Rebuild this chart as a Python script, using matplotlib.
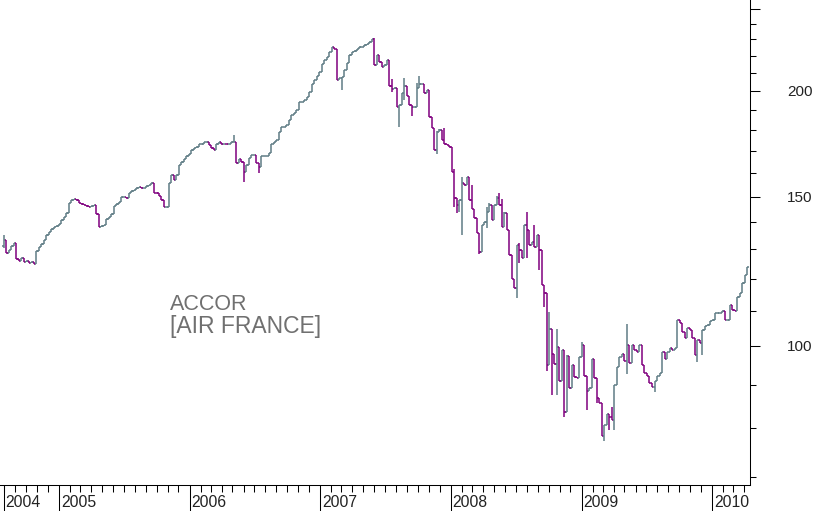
import numpy as np
import pandas as pd
import matplotlib
matplotlib.use('Agg')
import matplotlib.pyplot as plt
import matplotlib.dates as mdates
from matplotlib.ticker import FixedLocator, NullFormatter, FixedFormatter
from matplotlib.transforms import Bbox

# weekly closes
close = [
    133.3, 128.6, 129.7, 131.0, 132.2, 126.5, 126.0, 127.0, 125.5, 126.0,
    125.3, 125.6, 125.0, 129.5, 130.7, 132.0, 133.3, 135.0, 136.2, 137.4,
    138.2, 138.5, 139.2, 140.8, 142.0, 143.5, 147.5, 148.5, 149.2, 148.5,
    147.5, 147.0, 146.5, 146.2, 145.8, 146.2, 146.5, 143.1, 138.2, 138.5,
    138.9, 141.0, 142.1, 143.2, 146.2, 147.0, 147.7, 150.0, 150.0, 149.6,
    151.3, 152.2, 152.6, 153.5, 154.0, 153.5, 153.5, 154.4, 154.8, 155.7,
    151.7, 151.3, 150.4, 148.5, 145.8, 146.0, 155.7, 159.0, 157.0, 159.0,
    163.6, 165.0, 166.0, 167.3, 168.6, 170.5, 171.4, 171.9, 172.9, 173.3,
    173.8, 173.8, 172.4, 171.0, 170.5, 172.9, 173.8, 173.3, 173.3, 172.9,
    172.9, 173.8, 173.8, 164.5, 166.0, 165.0, 160.5, 163.6, 166.8, 168.2,
    168.2, 164.5, 162.7, 167.3, 167.3, 167.7, 169.0, 173.3, 173.8, 175.2,
    178.6, 181.5, 181.5, 182.5, 184.8, 187.3, 188.3, 189.6, 194.0, 194.0,
    195.0, 196.7, 199.5, 204.0, 206.0, 208.3, 210.6, 215.3, 217.6, 219.4,
    222.5, 225.0, 223.8, 206.1, 207.2, 207.8, 211.8, 215.9, 220.6, 222.5,
    223.0, 223.8, 225.0, 225.6, 226.3, 226.9, 228.1, 230.0, 214.7, 220.6,
    216.5, 213.5, 214.7, 217.6, 202.8, 201.1, 201.7, 191.4, 192.4, 198.9,
    202.8, 197.2, 192.4, 191.4, 191.4, 201.7, 204.0, 204.0, 198.9, 200.6,
    186.4, 181.0, 170.5, 178.6, 180.0, 175.2, 172.9, 172.4, 171.9, 160.5,
    149.6, 146.5, 148.5, 155.7, 154.8, 158.3, 148.5, 145.0, 141.5, 136.0,
    128.9, 138.9, 140.0, 143.9, 146.5, 140.8, 146.5, 149.6, 146.5, 138.2,
    143.5, 137.0, 128.0, 120.0, 116.9, 131.5, 129.7, 127.0, 138.9, 137.0,
    131.5, 132.6, 130.7, 135.2, 129.7, 117.9, 115.5, 94.8, 104.6, 97.8,
    95.3, 99.8, 91.0, 99.0, 83.6, 97.2, 89.1, 94.8, 91.8, 91.5,
    97.0, 100.3, 92.2, 88.4, 89.1, 96.5, 91.5, 86.8, 85.7, 78.3,
    80.7, 83.0, 82.3, 81.8, 89.8, 94.5, 97.0, 97.8, 96.0, 100.3,
    95.5, 100.3, 99.0, 98.4, 100.3, 94.8, 92.8, 92.0, 90.3, 89.4,
    91.0, 92.2, 92.8, 98.4, 96.5, 98.2, 99.5, 99.0, 99.5, 107.3,
    106.4, 103.8, 102.2, 105.0, 104.4, 102.2, 97.6, 101.6, 100.8, 104.4,
    105.6, 105.9, 107.0, 107.3, 109.4, 109.4, 109.4, 110.0, 107.3, 107.3,
    111.8, 110.3, 110.0, 114.3, 115.5, 118.7, 121.3, 123.9,
]
first_open = 131.0

# wicks that reach past open/close
high_fix = {0: 135.0, 92: 177.6, 148: 230.6, 155: 206.6, 160: 207.0, 165: 204.5,
            166: 208.0, 173: 179.5, 174: 180.5, 176: 181.0, 180: 161.9, 183: 158.3,
            187: 154.8, 193: 145.8, 194: 147.3, 197: 150.4, 198: 151.7, 199: 149.2,
            200: 143.9, 206: 132.2, 209: 143.9, 212: 138.9, 218: 109.7, 221: 104.6,
            225: 97.6, 231: 101.1, 232: 98.4, 243: 84.7, 249: 106.0}
low_fix = {0: 130.4, 96: 156.0, 102: 160.0, 135: 200.5, 155: 199.5, 158: 181.4,
           159: 193.8, 160: 195.0, 163: 186.9, 173: 168.5, 180: 145.8, 181: 143.5,
           182: 143.9, 183: 135.2, 190: 128.3, 193: 137.8, 205: 113.9, 206: 125.2,
           208: 127.3, 209: 127.0, 214: 122.8, 216: 111.2, 217: 93.5, 219: 87.4,
           221: 87.4, 224: 82.4, 233: 84.1, 237: 85.7, 240: 77.2, 242: 79.6,
           244: 79.6, 249: 92.5, 260: 88.1, 277: 95.8, 279: 97.6}

y_major = [100, 150, 200, 250]
y_labels = ['100', '150', '200', '']
y_minor = [70, 80, 90, 110, 120, 130, 140, 160, 170, 180, 190, 210, 220, 230, 240]
years = ['2005', '2006', '2007', '2008', '2009', '2010']

UP = '#5f7c85'
DOWN = '#80007f'

dates = pd.date_range('2004-07-30', periods=len(close), freq='W-FRI')
close = np.array(close)
open_ = np.r_[first_open, close[:-1]]
high = np.maximum(open_, close)
low = np.minimum(open_, close)
for k, v in high_fix.items():
    high[k] = max(v, high[k])
for k, v in low_fix.items():
    low[k] = min(v, low[k])
colors = np.where(close >= open_, UP, DOWN)

fig = plt.figure(figsize=(8.17, 5.11), dpi=100)
ax = fig.add_axes([0, 26 / 511, 750 / 817, 485 / 511])

x = mdates.date2num(dates)
lw = 1.1
ax.vlines(x, low, high, colors=colors, lw=lw)
ax.hlines(open_, x - 4, x, colors=colors, lw=lw)
ax.hlines(close, x, x + 4, colors=colors, lw=lw)

ax.set_yscale('log')
ax.set_ylim(68.5, 256)
ax.set_xlim(mdates.date2num(pd.Timestamp('2004-07-20')),
            mdates.date2num(pd.Timestamp('2010-04-17')))

ax.yaxis.tick_right()
ax.yaxis.set_major_locator(FixedLocator(y_major))
ax.yaxis.set_major_formatter(FixedFormatter(y_labels))
ax.yaxis.set_minor_locator(FixedLocator(y_minor))
ax.yaxis.set_minor_formatter(NullFormatter())
ax.tick_params(axis='y', which='major', length=7.5, width=0.75, pad=19,
               labelsize=11, labelcolor='#222222')
ax.tick_params(axis='y', which='minor', length=4.3, width=0.75)

year_pos = [x[0]] + [mdates.date2num(pd.Timestamp(y + '-01-01')) for y in years]
months = mdates.date2num(pd.date_range('2004-08-01', '2010-04-01', freq='MS'))
ax.xaxis.set_major_locator(FixedLocator(year_pos))
ax.xaxis.set_major_formatter(NullFormatter())
ax.xaxis.set_minor_locator(FixedLocator(months))
ax.tick_params(axis='x', which='major', length=19, width=0.75)
ax.tick_params(axis='x', which='minor', length=5, width=0.75)

clip = Bbox.from_extents(0, 0, 750, 511)
for pos, lab in zip(year_pos, ['2004'] + years):
    t = ax.annotate(lab, xy=(pos, 0), xycoords=('data', 'axes fraction'),
                    xytext=(1.5, -7), textcoords='offset points',
                    ha='left', va='top', fontsize=11.3, color='#222222',
                    family='Liberation Sans', annotation_clip=False)
    t.set_clip_box(clip)
    t.set_clip_on(True)

for lab in ax.get_yticklabels():
    lab.set_family('Liberation Sans')

for s in ['left', 'top']:
    ax.spines[s].set_visible(False)
for s in ['bottom', 'right']:
    ax.spines[s].set_linewidth(0.75)

ax.text(170 / 750, 0.361, 'ACCOR', transform=ax.transAxes, fontsize=15.5,
        color='#707070', family='Liberation Sans', va='baseline')
ax.text(170 / 750, 0.313, '[AIR FRANCE]', transform=ax.transAxes, fontsize=16.5,
        color='#707070', family='Liberation Sans', va='baseline')

fig.savefig('out.png', dpi=100)
